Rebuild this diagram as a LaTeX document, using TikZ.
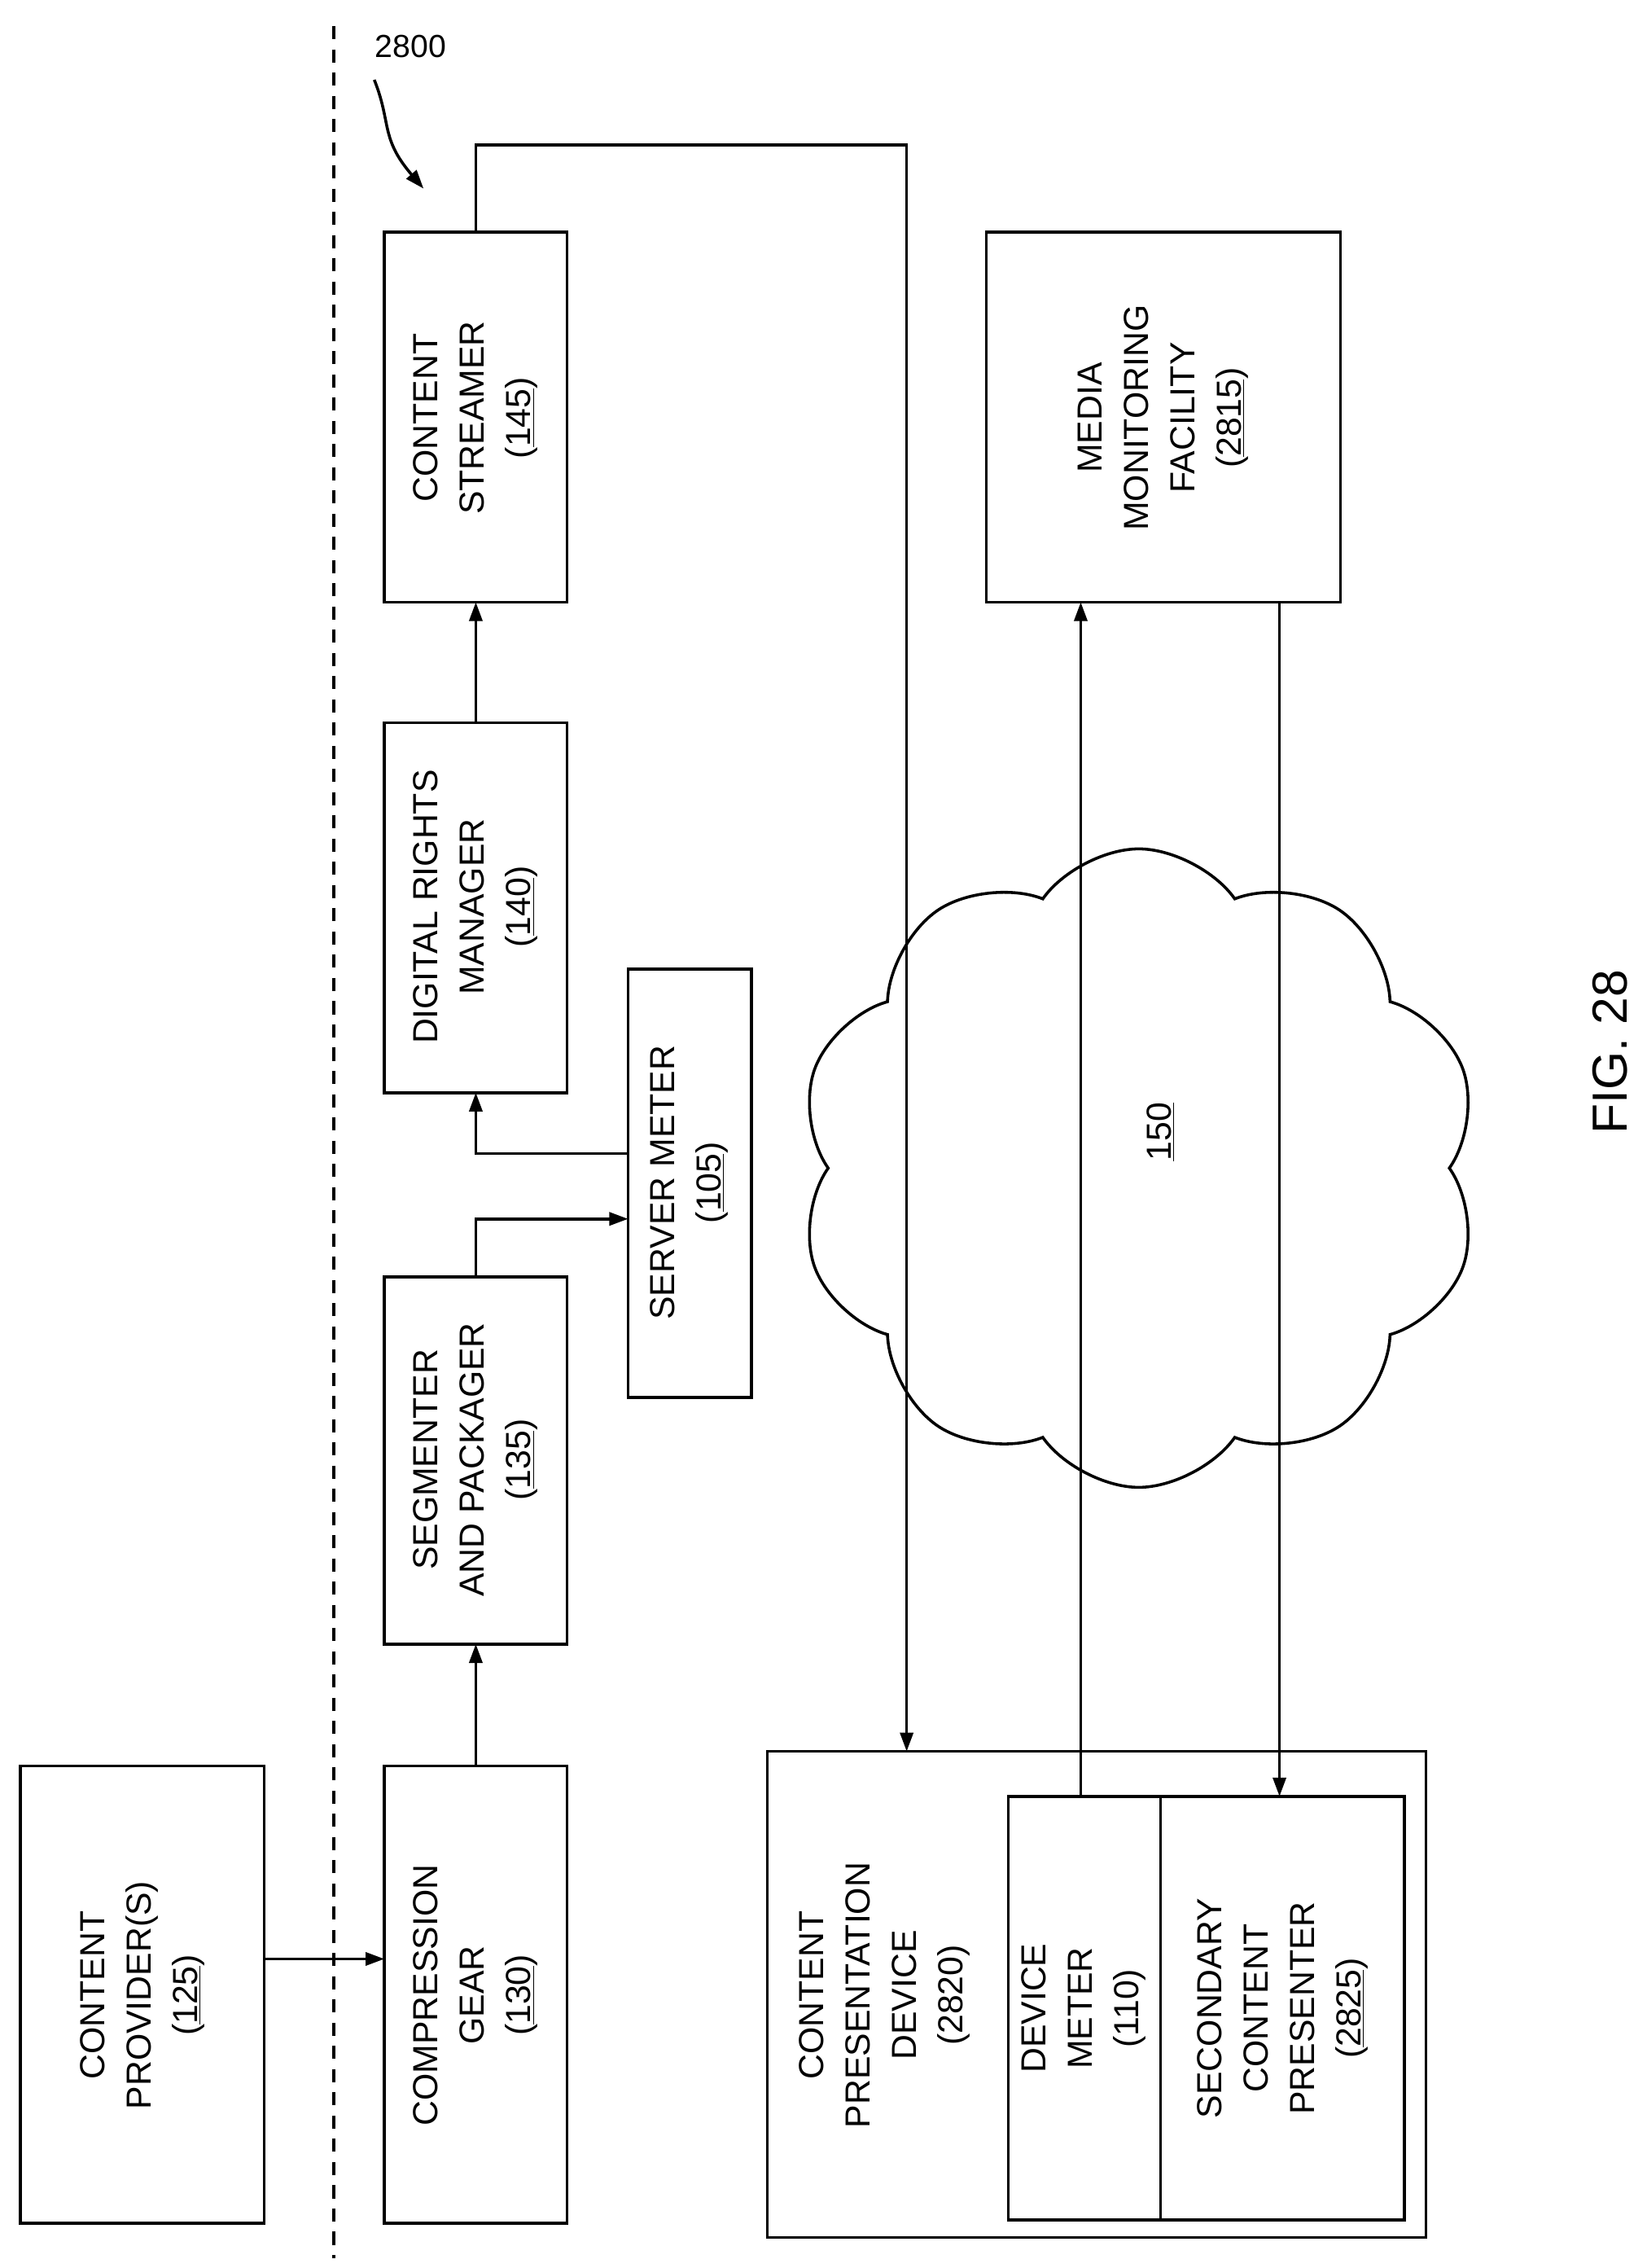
\documentclass[tikz,border=0pt]{standalone}
\usepackage{fontspec}
\setmainfont{Liberation Sans}
\usetikzlibrary{shapes.symbols,arrows.meta}
\begin{document}
\begin{tikzpicture}[x=1pt,y=-1pt,
 box/.style={draw,line width=2pt},
 lbl/.style={rotate=90,align=center,font=\fontsize{24}{32}\selectfont},
 ar/.style={line width=2pt,-{Triangle[length=13pt,width=9pt]}},
 ln/.style={line width=2pt}]
\useasboundingbox (0,0) rectangle (1135,1563);
\node[cloud,draw,line width=2pt,cloud puffs=10,cloud puff arc=110,minimum width=470pt,minimum height=440pt,aspect=1] (cloud) at (785,805) {};
\node[font=\fontsize{24}{32}\selectfont,rotate=90] (n150) at (800,780) {\underline{150}};
\draw[line width=2pt,dash pattern=on 9pt off 7pt] (230,18) -- (230,1556);
\node[font=\fontsize{22}{28}\selectfont] (l2800) at (283,32) {2800};
\coordinate (a0) at (258,55); \coordinate (a1) at (292,130);
\draw[ln,-{Triangle[length=13pt,width=9pt]}] (a0) .. controls (270,85) and (262,95) .. (a1);
\draw[box] (14,1217) rectangle (182,1532); \node[lbl] (cp) at (98,1375) {CONTENT\\PROVIDER(S)\\(\underline{125})};
\draw[box] (265,1217) rectangle (391,1532); \node[lbl] (cg) at (328,1375) {COMPRESSION\\GEAR\\(\underline{130})};
\draw[box] (265,880) rectangle (391,1133); \node[lbl] (sp) at (328,1006) {SEGMENTER\\AND PACKAGER\\(\underline{135})};
\draw[box] (433,668) rectangle (518,963); \node[lbl] (sm) at (475,815) {SERVER METER\\(\underline{105})};
\draw[box] (265,498) rectangle (391,753); \node[lbl] (drm) at (328,625) {DIGITAL RIGHTS\\MANAGER\\(\underline{140})};
\draw[box] (265,160) rectangle (391,415); \node[lbl] (cs) at (328,288) {CONTENT\\STREAMER\\(\underline{145})};
\draw[box] (680,160) rectangle (924,415); \node[lbl] (mmf) at (802,288) {MEDIA\\MONITORING\\FACILITY\\(\underline{2815})};
\draw[box] (529,1207) rectangle (983,1542); \node[lbl] (cpd) at (610,1375) {CONTENT\\PRESENTATION\\DEVICE\\(2820)};
\draw[box] (695,1238) rectangle (968,1530); \draw[ln] (800,1238) -- (800,1530);
\node[lbl] (dm) at (747,1384) {DEVICE\\METER\\(110)};
\node[lbl] (scp) at (884,1384) {SECONDARY\\CONTENT\\PRESENTER\\(\underline{2825})};
\node[rotate=90,font=\fontsize{34}{40}\selectfont] (fig) at (1110,725) {FIG. 28};
\draw[ar] (182,1350) -- (265,1350);
\draw[ar] (328,1217) -- (328,1133);
\draw[ar] (328,880) -- (328,840) -- (433,840);
\draw[ar] (433,795) -- (328,795) -- (328,753);
\draw[ar] (328,498) -- (328,415);
\draw[ar] (328,160) -- (328,100) -- (625,100) -- (625,1207);
\draw[ar] (745,1238) -- (745,415);
\draw[ar] (882,415) -- (882,1238);
\end{tikzpicture}
\end{document}
